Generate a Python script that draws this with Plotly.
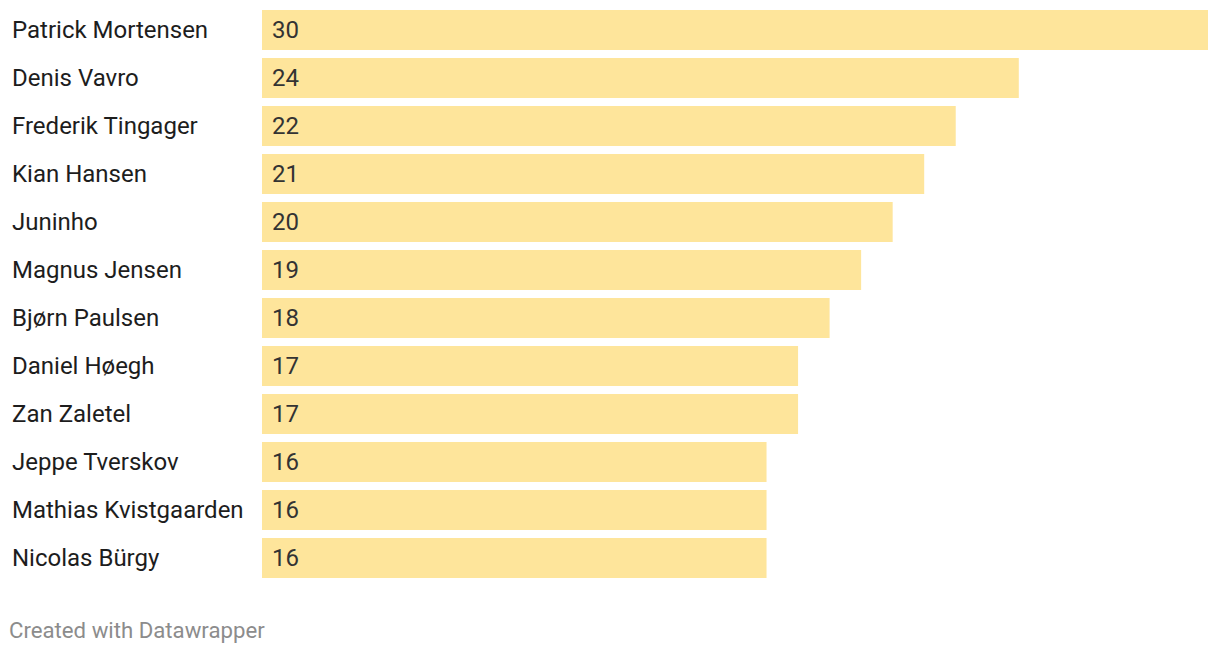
import plotly.graph_objects as go

players = ["Patrick Mortensen", "Denis Vavro", "Frederik Tingager", "Kian Hansen",
           "Juninho", "Magnus Jensen", "Bjørn Paulsen", "Daniel Høegh", "Zan Zaletel",
           "Jeppe Tverskov", "Mathias Kvistgaarden", "Nicolas Bürgy"]
values = [30, 24, 22, 21, 20, 19, 18, 17, 17, 16, 16, 16]

ids = [f"r{i}" for i in range(len(players))]

fig = go.Figure(go.Bar(
    x=values, y=ids, orientation="h",
    marker=dict(color="#fee59b", line=dict(width=0)),
    hoverinfo="skip",
))

annotations = []
for pid, name, v in zip(ids, players, values):
    annotations.append(dict(x=0, y=pid, xref="x", yref="y", text=name, showarrow=False,
                            xanchor="left", xshift=-252,
                            font=dict(family="Roboto", size=24, color="#1d1d1d")))
    annotations.append(dict(x=0, y=pid, xref="x", yref="y", text=str(v), showarrow=False,
                            xanchor="left", xshift=8,
                            font=dict(family="Roboto", size=24, color="#333333")))
annotations.append(dict(x=-255/946, y=-(630-582)/576, xref="paper", yref="paper",
                        text="Created with Datawrapper",
                        showarrow=False, xanchor="left", yanchor="middle",
                        font=dict(family="Roboto", size=22.2, color="#8c8c8c")))

fig.update_layout(
    width=1220, height=654,
    margin=dict(l=262, r=12, t=6, b=72),
    paper_bgcolor="white", plot_bgcolor="white",
    bargap=8/48,
    showlegend=False,
    xaxis=dict(range=[0, 30], visible=False, fixedrange=True),
    yaxis=dict(autorange="reversed", visible=False, fixedrange=True),
    annotations=annotations,
)

fig.write_html("out.html")
